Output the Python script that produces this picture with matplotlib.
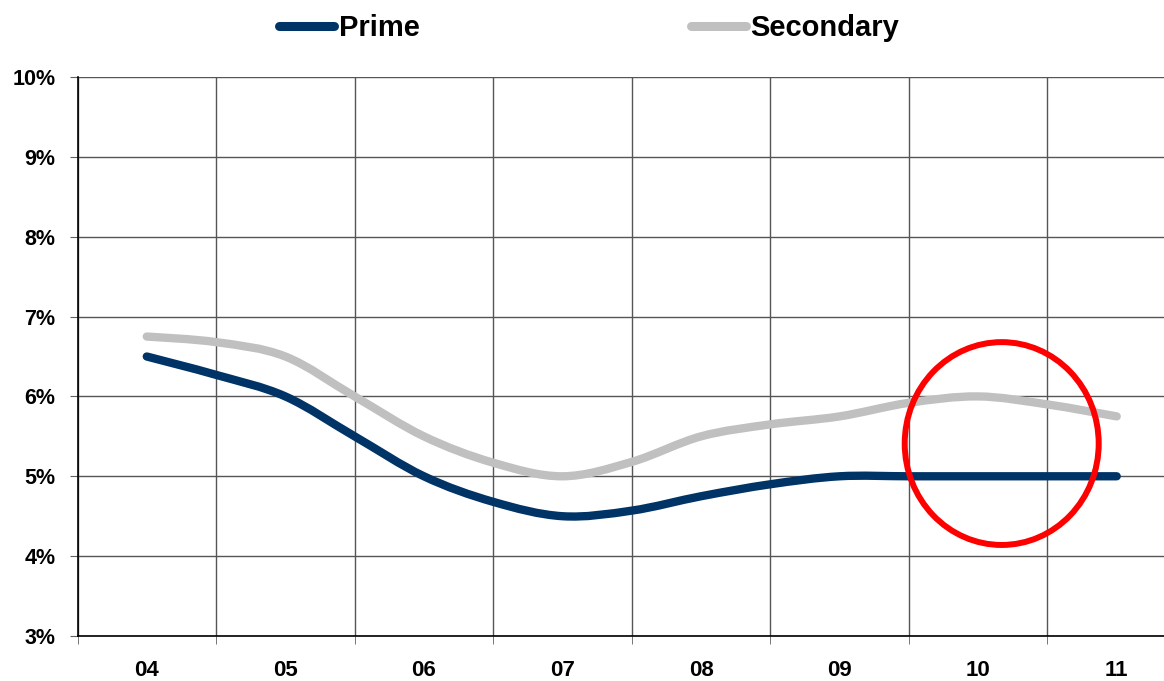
import numpy as np
import matplotlib.pyplot as plt
from matplotlib.path import Path
from matplotlib.patches import PathPatch, Ellipse
from matplotlib.lines import Line2D

plt.rcParams['font.family'] = ['Liberation Sans', 'DejaVu Sans']
plt.rcParams['font.weight'] = 'bold'

# half-yearly readings, years 04..11
years = ['04', '05', '06', '07', '08', '09', '10', '11']
periods = np.arange(0, 7.5, 0.5)
prime = [6.5, 6.27, 6.0, 5.5, 5.0, 4.68, 4.5, 4.57, 4.75, 4.9, 5.0, 5.0, 5.0, 5.0, 5.0]
secondary = [6.75, 6.68, 6.5, 6.0, 5.5, 5.17, 5.0, 5.18, 5.5, 5.65, 5.75, 5.92, 6.0, 5.9, 5.75]
yticks = [3, 4, 5, 6, 7, 8, 9, 10]

PRIME_COL = '#003366'
SEC_COL = '#c0c0c0'


def smooth_path(x, y):
    """Excel-style smoothed line: cubic Bezier segments through every point."""
    pts = np.column_stack([x, y]).astype(float)
    n = len(pts)
    verts = [pts[0]]
    codes = [Path.MOVETO]
    for i in range(n - 1):
        p0 = pts[max(i - 1, 0)]
        p1 = pts[i]
        p2 = pts[i + 1]
        p3 = pts[min(i + 2, n - 1)]
        c1 = p1 + (p2 - p0) / 6.0
        c2 = p2 - (p3 - p1) / 6.0
        verts += [c1, c2, p2]
        codes += [Path.CURVE4] * 3
    return Path(verts, codes)


W, H = 1164, 681
fig = plt.figure(figsize=(W / 100, H / 100), dpi=100)
left, right, top, bottom = 77.5, 1186, 77, 636
ax = fig.add_axes([left / W, 1 - bottom / H, (right - left) / W, (bottom - top) / H])

ax.set_xlim(-0.5, len(years) - 0.5)
ax.set_ylim(3, 10)

for vals, col in [(secondary, SEC_COL), (prime, PRIME_COL)]:
    patch = PathPatch(smooth_path(periods, vals), facecolor='none', edgecolor=col,
                      lw=6, capstyle='round', joinstyle='round', zorder=3)
    ax.add_patch(patch)

ax.add_patch(Ellipse((6.17, 5.41), 1.40, 2.54, facecolor='none', edgecolor='#ff0000',
                     lw=4.3, zorder=4, clip_on=False))

ax.set_xticks(range(len(years)))
ax.set_xticklabels(years, fontsize=16, fontweight='bold')
ax.set_xticks(np.arange(-0.5, len(years), 1), minor=True)
ax.tick_params(axis='x', which='major', length=0, pad=17)
ax.tick_params(axis='x', which='minor', length=6, color='#606060', direction='out')

ax.set_yticks(yticks)
ax.set_yticklabels([f'{v}%' for v in yticks], fontsize=15.5, fontweight='bold')
ax.tick_params(axis='y', length=6, color='#606060', pad=10)

ax.grid(True, axis='y', which='major', color='#555555', lw=1)
ax.grid(True, axis='x', which='minor', color='#555555', lw=1)
ax.set_axisbelow(True)

for s in ['top', 'right']:
    ax.spines[s].set_visible(False)
ax.spines['left'].set_color('black')
ax.spines['bottom'].set_color('black')
ax.spines['left'].set_linewidth(1.2)
ax.spines['bottom'].set_linewidth(1.2)

handles = [Line2D([], [], color=PRIME_COL, lw=6.5, solid_capstyle='round'),
           Line2D([], [], color=SEC_COL, lw=6.5, solid_capstyle='round')]
fig.legend(handles, ['Prime', 'Secondary'], loc='center', bbox_to_anchor=(589 / W, 1 - 28 / H),
           ncol=2, frameon=False, prop={'size': 21, 'weight': 'bold'},
           handlelength=1.9, handletextpad=0.15, columnspacing=9.3)

fig.savefig('out.png', dpi=100)
